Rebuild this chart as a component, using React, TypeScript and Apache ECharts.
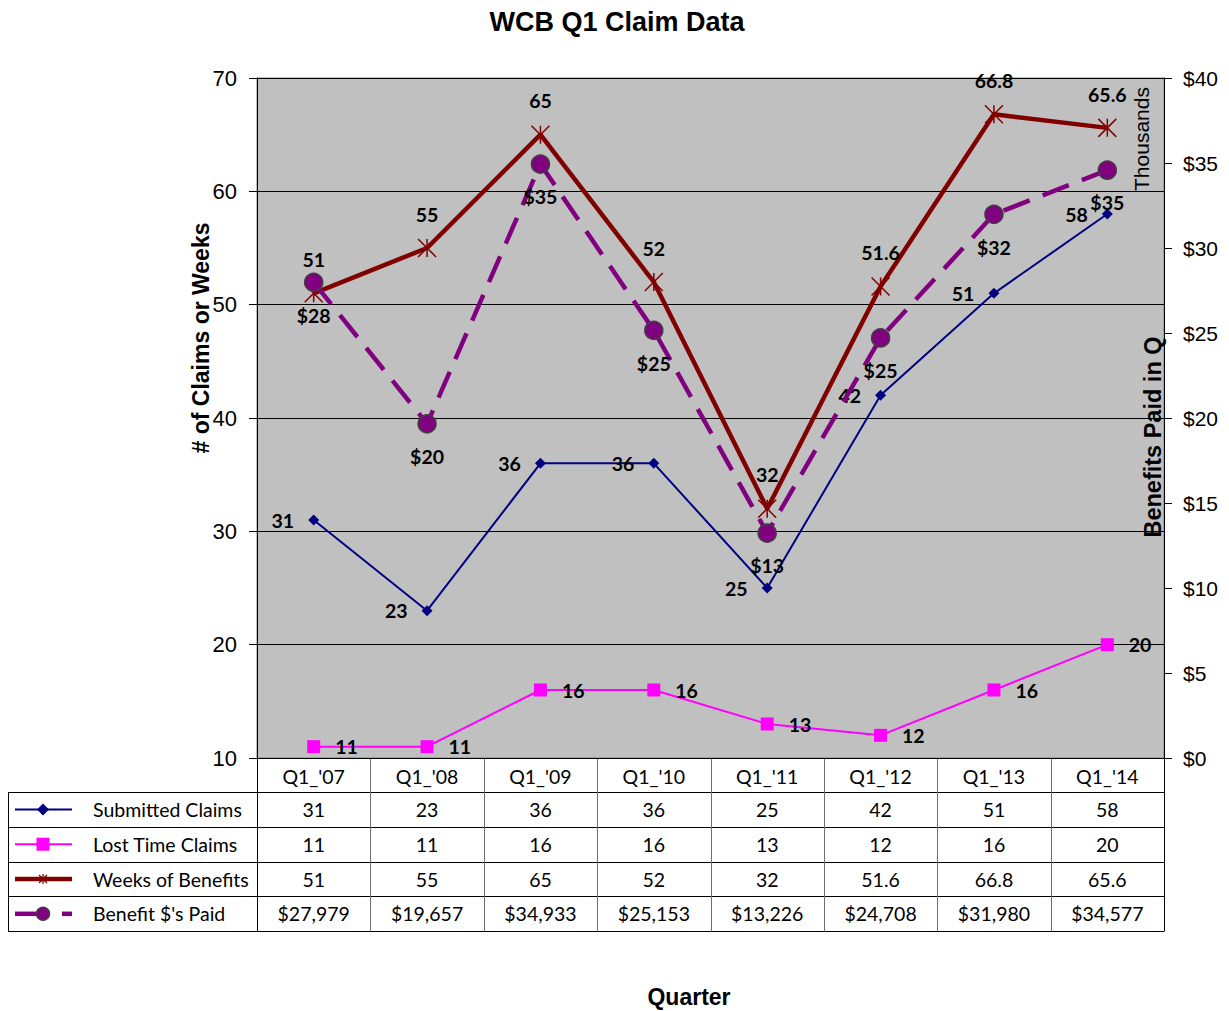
import React, { useEffect, useRef } from "react";
import * as echarts from "echarts";

const categories = ["Q1_'07", "Q1_'08", "Q1_'09", "Q1_'10", "Q1_'11", "Q1_'12", "Q1_'13", "Q1_'14"];
const submittedClaims = [31, 23, 36, 36, 25, 42, 51, 58];
const lostTimeClaims = [11, 11, 16, 16, 13, 12, 16, 20];
const weeksOfBenefits = [51, 55, 65, 52, 32, 51.6, 66.8, 65.6];
const benefitsPaid = [27979, 19657, 34933, 25153, 13226, 24708, 31980, 34577];
const seriesNames = ["Submitted Claims", "Lost Time Claims", "Weeks of Benefits", "Benefit $'s Paid"];
const leftTicks = { min: 10, max: 70, interval: 10 };
const rightTicks = { min: 0, max: 40000, interval: 5000 };

const W = 1229;
const H = 1011;
const PL = 257;
const PR = 1164;
const PT = 78;
const PB = 758;
const NAVY = "#000080";
const MAGENTA = "#FF00FF";
const MAROON = "#800000";
const PURPLE = "#800080";
const CAL = "Lato, 'Noto Sans', sans-serif";
const ARIAL = "'Liberation Sans', Arial, sans-serif";
const STAR = "path://M0 0L10 10M10 0L0 10M5 0L5 10";

export default function App() {
  const ref = useRef<HTMLDivElement>(null);
  useEffect(() => {
    document.body.style.margin = "0";
    const chart = echarts.init(ref.current!, null, { renderer: "svg" });
    const colW = (PR - PL) / categories.length;
    const rowTop = 792;
    const rowH = 34.8;
    const headTop = PB;
    const tableBottom = rowTop + rowH * 4;
    const g: any[] = [];
    const ln = (x1: number, y1: number, x2: number, y2: number, stroke: string, lw = 1) =>
      g.push({ type: "line", shape: { x1, y1, x2, y2 }, style: { stroke, lineWidth: lw }, silent: true });
    for (let r = 0; r <= 4; r++) {
      const y = Math.round(rowTop + r * rowH) + 0.5;
      ln(8, y, PR, y, "#000");
    }
    for (let c = 0; c <= categories.length; c++) {
      const x = Math.round(PL + c * colW) + 0.5;
      ln(x, headTop, x, Math.round(tableBottom) + 0.5, c === 0 || c === categories.length ? "#000" : "#707070");
    }
    ln(8.5, rowTop, 8.5, Math.round(tableBottom) + 0.5, "#000");
    const rows = [
      submittedClaims.map((v) => String(v)),
      lostTimeClaims.map((v) => String(v)),
      weeksOfBenefits.map((v) => String(v)),
      benefitsPaid.map((v) => "$" + v.toLocaleString("en-US")),
    ];
    rows.forEach((vals, r) => {
      const cy = rowTop + r * rowH + rowH / 2;
      vals.forEach((t, c) => {
        g.push({
          type: "text",
          x: PL + c * colW + colW / 2,
          y: cy,
          style: { text: t, fontSize: 19.5, fontFamily: CAL, fill: "#000", align: "center", verticalAlign: "middle" },
        });
      });
      g.push({
        type: "text",
        x: 93,
        y: cy,
        style: { text: seriesNames[r], fontSize: 19.5, fontFamily: CAL, fill: "#000", align: "left", verticalAlign: "middle" },
      });
      const mx = 43;
      if (r === 0) {
        ln(15, cy, 72, cy, NAVY, 2);
        g.push({ type: "polygon", shape: { points: [[mx, cy - 6], [mx + 6, cy], [mx, cy + 6], [mx - 6, cy]] }, style: { fill: NAVY } });
      } else if (r === 1) {
        ln(15, cy, 72, cy, MAGENTA, 2);
        g.push({ type: "rect", shape: { x: mx - 6.5, y: cy - 6.5, width: 13, height: 13 }, style: { fill: MAGENTA } });
      } else if (r === 2) {
        ln(15, cy, 72, cy, MAROON, 4.5);
        ln(mx - 4, cy - 4, mx + 4, cy + 4, MAROON, 1.2);
        ln(mx + 4, cy - 4, mx - 4, cy + 4, MAROON, 1.2);
        ln(mx, cy - 5, mx, cy + 5, MAROON, 1.2);
      } else {
        ln(15, cy, 44, cy, PURPLE, 4.5);
        ln(62, cy, 72, cy, PURPLE, 4.5);
        g.push({ type: "circle", shape: { cx: mx, cy, r: 6.5 }, style: { fill: PURPLE, stroke: "#404040", lineWidth: 1.5 } });
      }
    });
    g.push({ type: "text", x: 617, y: 22, style: { text: "WCB Q1 Claim Data", fontSize: 27, fontWeight: "bold", fontFamily: ARIAL, fill: "#000", align: "center", verticalAlign: "middle" } });
    g.push({ type: "text", x: 689, y: 997, style: { text: "Quarter", fontSize: 23, fontWeight: "bold", fontFamily: ARIAL, fill: "#000", align: "center", verticalAlign: "middle" } });
    g.push({ type: "text", x: 201, y: 338, rotation: Math.PI / 2, style: { text: "# of Claims or Weeks", fontSize: 23, fontWeight: "bold", fontFamily: ARIAL, fill: "#000", align: "center", verticalAlign: "middle" } });
    g.push({ type: "text", x: 1153, y: 437, rotation: Math.PI / 2, style: { text: "Benefits Paid in Q", fontSize: 23.5, fontWeight: "bold", fontFamily: ARIAL, fill: "#000", align: "center", verticalAlign: "middle" } });
    g.push({ type: "text", x: 1141, y: 139, rotation: Math.PI / 2, style: { text: "Thousands", fontSize: 21, fontFamily: ARIAL, fill: "#000", align: "center", verticalAlign: "middle" } });

    const lblFont = { fontSize: 19.5, fontWeight: "bold", fontFamily: CAL, color: "#000" };
    chart.setOption({
      animation: false,
      grid: { left: PL, right: W - PR, top: PT, bottom: H - PB, show: true, backgroundColor: "#C0C0C0", borderColor: "#808080", borderWidth: 1 },
      xAxis: {
        type: "category",
        data: categories,
        boundaryGap: true,
        axisLine: { show: false },
        axisTick: { show: false },
        axisLabel: { fontSize: 19.5, fontFamily: CAL, color: "#000", margin: 8 },
      },
      yAxis: [
        {
          type: "value",
          min: leftTicks.min,
          max: leftTicks.max,
          interval: leftTicks.interval,
          axisLine: { show: true, lineStyle: { color: "#000" } },
          axisTick: { show: true, length: 8, lineStyle: { color: "#000" } },
          axisLabel: { fontSize: 22, fontFamily: ARIAL, color: "#000", margin: 20 },
          splitLine: { show: true, lineStyle: { color: "#000", width: 1 } },
        },
        {
          type: "value",
          min: rightTicks.min,
          max: rightTicks.max,
          interval: rightTicks.interval,
          position: "right",
          axisLine: { show: true, lineStyle: { color: "#000" } },
          axisTick: { show: true, length: 8, lineStyle: { color: "#000" } },
          axisLabel: { fontSize: 21, fontFamily: ARIAL, color: "#000", margin: 19, formatter: (v: number) => "$" + v / 1000 },
          splitLine: { show: false },
        },
      ],
      series: [
        {
          name: seriesNames[0],
          type: "line",
          data: submittedClaims,
          symbol: "diamond",
          symbolSize: 11,
          lineStyle: { color: NAVY, width: 2 },
          itemStyle: { color: NAVY },
          label: { show: true, position: "left", distance: 14, ...lblFont },
          z: 3,
        },
        {
          name: seriesNames[1],
          type: "line",
          data: lostTimeClaims,
          symbol: "rect",
          symbolSize: 13,
          lineStyle: { color: MAGENTA, width: 2 },
          itemStyle: { color: MAGENTA },
          label: { show: true, position: "right", distance: 15, ...lblFont },
          z: 3,
        },
        {
          name: seriesNames[2],
          type: "line",
          data: weeksOfBenefits,
          symbol: STAR,
          symbolSize: 18,
          lineStyle: { color: MAROON, width: 4.5 },
          itemStyle: { color: MAROON, borderColor: MAROON, borderWidth: 1.5 },
          label: { show: true, position: "top", distance: 14, ...lblFont },
          z: 3,
        },
        {
          name: seriesNames[3],
          type: "line",
          yAxisIndex: 1,
          data: benefitsPaid,
          symbol: "circle",
          symbolSize: 18,
          lineStyle: { color: PURPLE, width: 4.5, type: [28, 14] },
          itemStyle: { color: PURPLE, borderColor: "#404040", borderWidth: 1.5 },
          label: { show: true, position: "bottom", distance: 13, ...lblFont, formatter: (p: any) => "$" + Math.round(p.value / 1000) },
          z: 4,
        },
      ],
      graphic: g,
    });
    return () => chart.dispose();
  }, []);
  return <div ref={ref} style={{ width: W, height: H, background: "#fff" }} />;
}
